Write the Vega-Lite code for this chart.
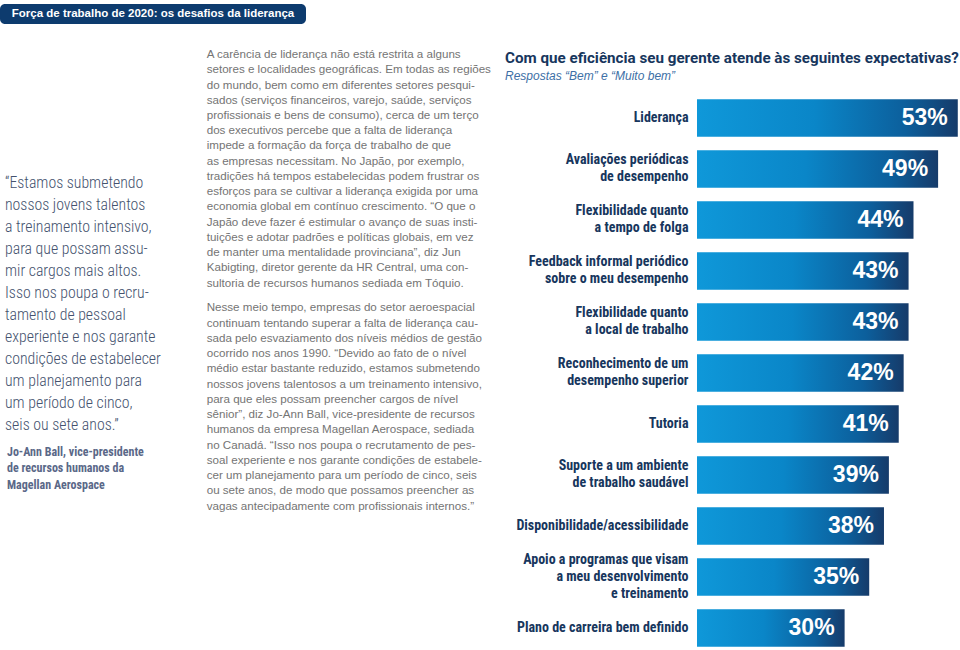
{
  "$schema": "https://vega.github.io/schema/vega-lite/v6.json",
  "background": "white",
  "padding": {"left": 0, "right": 0, "top": 4, "bottom": 0},
  "bounds": "flush",
  "spacing": 16,
  "config": {"view": {"stroke": null}},
  "vconcat": [
    {
      "width": 306,
      "height": 20,
      "view": {"fill": "#0d3b6e", "cornerRadius": 5, "stroke": null},
      "data": {"values": [{"title": "Força de trabalho de 2020: os desafios da liderança"}]},
      "mark": {"type": "text", "font": "Liberation Sans", "fontWeight": "bold", "fontSize": 11.5, "color": "white", "align": "center", "baseline": "middle"},
      "encoding": {"text": {"field": "title"}}
    },
    {
      "bounds": "flush",
      "spacing": 5,
      "hconcat": [
        {
          "width": 195,
          "height": 610,
          "layer": [
            {
              "data": {"values": [
                {"line": 0, "text": "“Estamos submetendo"},
                {"line": 1, "text": "nossos jovens talentos"},
                {"line": 2, "text": "a treinamento intensivo,"},
                {"line": 3, "text": "para que possam assu-"},
                {"line": 4, "text": "mir cargos mais altos."},
                {"line": 5, "text": "Isso nos poupa o recru-"},
                {"line": 6, "text": "tamento de pessoal"},
                {"line": 7, "text": "experiente e nos garante"},
                {"line": 8, "text": "condições de estabelecer"},
                {"line": 9, "text": "um planejamento para"},
                {"line": 10, "text": "um período de cinco,"},
                {"line": 11, "text": "seis ou sete anos.”"}
              ]},
              "mark": {"type": "text", "align": "left", "baseline": "middle", "font": "Roboto Condensed, DejaVu Sans Condensed, Roboto", "fontWeight": 300, "fontSize": 15.8, "color": "#44526e"},
              "encoding": {
                "x": {"value": 5},
                "y": {"field": "line", "type": "quantitative", "axis": null, "scale": {"domain": [-6.478, 21.21], "reverse": true, "nice": false, "zero": false}},
                "text": {"field": "text"}
              }
            },
            {
              "data": {"values": [
                {"line": 12.21, "text": "Jo-Ann Ball, vice-presidente"},
                {"line": 12.97, "text": "de recursos humanos da"},
                {"line": 13.72, "text": "Magellan Aerospace"}
              ]},
              "mark": {"type": "text", "align": "left", "baseline": "middle", "font": "Roboto Condensed, DejaVu Sans Condensed, Roboto", "fontWeight": "bold", "fontSize": 12, "color": "#5a6888"},
              "encoding": {
                "x": {"value": 7},
                "y": {"field": "line", "type": "quantitative", "axis": null},
                "text": {"field": "text"}
              }
            }
          ]
        },
        {
          "width": 492,
          "height": 610,
          "data": {"values": [
            {"line": 0, "text": "A carência de liderança não está restrita a alguns"},
            {"line": 1, "text": "setores e localidades geográficas. Em todas as regiões"},
            {"line": 2, "text": "do mundo, bem como em diferentes setores pesqui-"},
            {"line": 3, "text": "sados (serviços financeiros, varejo, saúde, serviços"},
            {"line": 4, "text": "profissionais e bens de consumo), cerca de um terço"},
            {"line": 5, "text": "dos executivos percebe que a falta de liderança"},
            {"line": 6, "text": "impede a formação da força de trabalho de que"},
            {"line": 7, "text": "as empresas necessitam. No Japão, por exemplo,"},
            {"line": 8, "text": "tradições há tempos estabelecidas podem frustrar os"},
            {"line": 9, "text": "esforços para se cultivar a liderança exigida por uma"},
            {"line": 10, "text": "economia global em contínuo crescimento. “O que o"},
            {"line": 11, "text": "Japão deve fazer é estimular o avanço de suas insti-"},
            {"line": 12, "text": "tuições e adotar padrões e políticas globais, em vez"},
            {"line": 13, "text": "de manter uma mentalidade provinciana”, diz Jun"},
            {"line": 14, "text": "Kabigting, diretor gerente da HR Central, uma con-"},
            {"line": 15, "text": "sultoria de recursos humanos sediada em Tóquio."},
            {"line": 16.61, "text": "Nesse meio tempo, empresas do setor aeroespacial"},
            {"line": 17.61, "text": "continuam tentando superar a falta de liderança cau-"},
            {"line": 18.61, "text": "sada pelo esvaziamento dos níveis médios de gestão"},
            {"line": 19.61, "text": "ocorrido nos anos 1990. “Devido ao fato de o nível"},
            {"line": 20.61, "text": "médio estar bastante reduzido, estamos submetendo"},
            {"line": 21.61, "text": "nossos jovens talentosos a um treinamento intensivo,"},
            {"line": 22.61, "text": "para que eles possam preencher cargos de nível"},
            {"line": 23.61, "text": "sênior”, diz Jo-Ann Ball, vice-presidente de recursos"},
            {"line": 24.61, "text": "humanos da empresa Magellan Aerospace, sediada"},
            {"line": 25.61, "text": "no Canadá. “Isso nos poupa o recrutamento de pes-"},
            {"line": 26.61, "text": "soal experiente e nos garante condições de estabele-"},
            {"line": 27.61, "text": "cer um planejamento para um período de cinco, seis"},
            {"line": 28.61, "text": "ou sete anos, de modo que possamos preencher as"},
            {"line": 29.61, "text": "vagas antecipadamente com profissionais internos.”"}
          ]},
          "mark": {"type": "text", "align": "left", "baseline": "middle", "font": "Liberation Sans", "fontSize": 11.6, "color": "#747474"},
          "encoding": {
            "x": {"value": 6.7},
            "y": {"field": "line", "type": "quantitative", "axis": null, "scale": {"domain": [-0.984, 39.02], "reverse": true, "nice": false, "zero": false}},
            "text": {"field": "text"}
          }
        },
        {
          "width": 263,
          "height": 610,
          "title": {
            "text": "Com que eficiência seu gerente atende às seguintes expectativas?",
            "subtitle": "Respostas “Bem” e “Muito bem”",
            "anchor": "start",
            "frame": "group",
            "dx": -192,
            "offset": -42,
            "font": "Roboto",
            "fontWeight": "bold",
            "fontSize": 15.2,
            "color": "#17365d",
            "subtitleFont": "Liberation Sans",
            "subtitleFontStyle": "italic",
            "subtitleFontSize": 12,
            "subtitleColor": "#3d6fa6",
            "subtitlePadding": 5
          },
          "data": {"values": [
            {"category": "Liderança", "value": 0.53},
            {"category": "Avaliações periódicas\nde desempenho", "value": 0.49},
            {"category": "Flexibilidade quanto\na tempo de folga", "value": 0.44},
            {"category": "Feedback informal periódico\nsobre o meu desempenho", "value": 0.43},
            {"category": "Flexibilidade quanto\na local de trabalho", "value": 0.43},
            {"category": "Reconhecimento de um\ndesempenho superior", "value": 0.42},
            {"category": "Tutoria", "value": 0.41},
            {"category": "Suporte a um ambiente\nde trabalho saudável", "value": 0.39},
            {"category": "Disponibilidade/acessibilidade", "value": 0.38},
            {"category": "Apoio a programas que visam\na meu desenvolvimento\ne treinamento", "value": 0.35},
            {"category": "Plano de carreira bem definido", "value": 0.30}
          ]},
          "encoding": {
            "y": {
              "field": "category", "type": "nominal", "sort": null,
              "scale": {"paddingInner": 0.267, "paddingOuter": 0.614, "align": 0.947},
              "axis": {
                "title": null, "domain": false, "ticks": false, "tickSize": 0, "labelPadding": 9,
                "labelFont": "Roboto Condensed, DejaVu Sans Condensed, Roboto", "labelFontWeight": "bold", "labelFontSize": 14,
                "labelColor": "#17365d", "labelLineHeight": 17, "labelLimit": 0, "labelBaseline": "middle",
                "labelOffset": {"condition": [
                  {"test": "length(split(datum.value, '\\n')) == 2", "value": -8.5},
                  {"test": "length(split(datum.value, '\\n')) == 3", "value": -17}
                ], "value": 0},
                "labelExpr": "split(datum.label, '\\n')"
              }
            },
            "x": {"field": "value", "type": "quantitative", "axis": null, "scale": {"domain": [0, 0.5345], "nice": false}}
          },
          "layer": [
            {
              "mark": {"type": "bar", "color": {"gradient": "linear", "x1": 0, "y1": 0, "x2": 1, "y2": 0, "stops": [
                {"offset": 0, "color": "#0f98d9"},
                {"offset": 0.45, "color": "#0a86c8"},
                {"offset": 0.8, "color": "#0c5f9c"},
                {"offset": 1, "color": "#163b6a"}
              ]}}
            },
            {
              "mark": {"type": "text", "align": "right", "baseline": "middle", "dx": -10, "font": "Liberation Sans", "fontWeight": "bold", "fontSize": 23, "color": "white"},
              "encoding": {"text": {"field": "value", "type": "quantitative", "format": ".0%"}}
            }
          ]
        }
      ]
    }
  ]
}
